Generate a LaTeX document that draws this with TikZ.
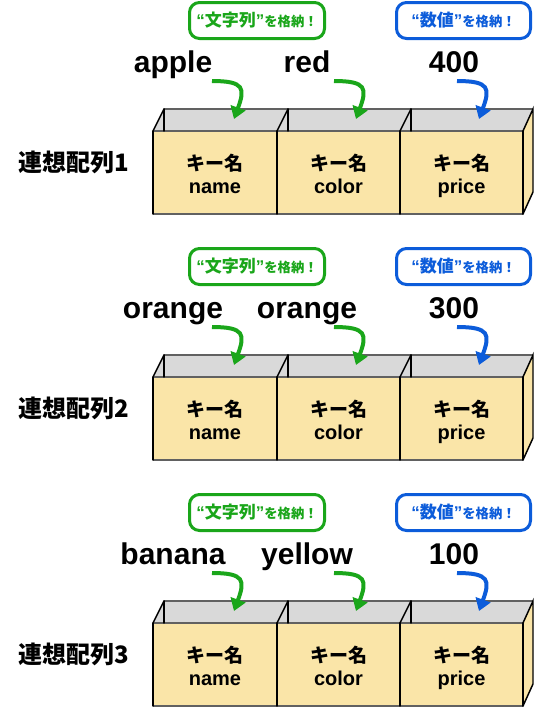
\documentclass[tikz,border=0pt]{standalone}
\usepackage{fontspec}
\setmainfont{Liberation Sans}
\newfontfamily\cjk{Noto Sans CJK JP}
\newcommand\jpfont{\cjk\bfseries}
\usetikzlibrary{arrows.meta}
\definecolor{ggreen}{RGB}{26,166,26}
\definecolor{bblue}{RGB}{12,92,218}
\definecolor{wheatfill}{RGB}{250,229,168}
\definecolor{topgray}{RGB}{217,217,217}
\begin{document}
\begin{tikzpicture}[x=0.75pt,y=-0.75pt,
  hline/.style={draw=black!62, line width=1.5pt},
  vline/.style={draw=black, line width=1.1pt, line cap=round},
  keytxt/.style={font=\jpfont\fontsize{14.25pt}{16pt}\selectfont, inner sep=0pt},
  keyname/.style={font=\bfseries\fontsize{15pt}{17pt}\selectfont, inner sep=0pt, anchor=base},
  valtxt/.style={font=\bfseries\fontsize{22.5pt}{26pt}\selectfont, inner sep=0pt, anchor=base},
  rowlbl/.style={font=\jpfont\fontsize{18pt}{20pt}\selectfont, inner sep=0pt},
  callout/.style={rounded corners=7.5pt, line width=2.25pt, minimum height=27pt, inner sep=0pt, fill=white},
  gcall/.style={callout, draw=ggreen, text=ggreen, minimum width=101.25pt},
  bcall/.style={callout, draw=bblue, text=bblue, minimum width=100.5pt},
  flow/.style={line width=3pt, -{Triangle[length=9pt,width=11.5pt]}, looseness=1.9},
]
\useasboundingbox (0,0) rectangle (534,708);
\foreach \n/\va/\vb/\vc in {1/apple/red/400,2/orange/orange/300,3/banana/yellow/100}{
\begin{scope}[yshift={-184.5pt*(\n-1)}]
  % box faces
  \fill[topgray] (153,131) -- (164,109) -- (533,109) -- (523,131) -- cycle;
  \fill[wheatfill] (523,131) -- (533,109) -- (533,192) -- (523,214) -- cycle;
  \fill[wheatfill] (153,131) rectangle (523,214);
  % horizontal edges
  \draw[hline] (164,109) -- (533,109);
  \draw[hline] (153,131) -- (523,131);
  \draw[hline] (153,214) -- (523,214);
  % back verticals and diagonals
  \foreach \fx/\bx in {153/164,277/288,400/411}{
    \draw[vline] (\bx,109) -- (\bx,131);
    \draw[vline] (\fx,131) -- (\bx,109);
  }
  \draw[vline] (523,131) -- (533,109) -- (533,192) -- (523,214);
  % front verticals
  \foreach \fx in {153,277,400,523}{
    \draw[vline] (\fx,131) -- (\fx,214);
  }
  % row label
  \node[rowlbl] (L\n) at (74,162) {連想配列\n};
  % key texts
  \node[keytxt] (ka\n) at (215,163) {キー名};
  \node[keyname] (na\n) at (215,193) {name};
  \node[keytxt] (kb\n) at (338.5,163) {キー名};
  \node[keyname] (nb\n) at (338.5,193) {color};
  \node[keytxt] (kc\n) at (461.5,163) {キー名};
  \node[keyname] (nc\n) at (461.5,193) {price};
  % values
  \node[valtxt] (va\n) at (173,72) {\va};
  \node[valtxt] (vb\n) at (307,72) {\vb};
  \node[valtxt] (vc\n) at (454,72) {\vc};
  % callouts
  \node[gcall] (cg\n) at (257,20.5) {{\bfseries\fontsize{12.75pt}{14pt}\selectfont “{\jpfont 文字列}”}{\jpfont\fontsize{10pt}{12pt}\selectfont を格納！}};
  \node[bcall] (cb\n) at (463.5,20.5) {{\bfseries\fontsize{12.75pt}{14pt}\selectfont “{\jpfont 数値}”}{\jpfont\fontsize{10pt}{12pt}\selectfont を格納！}};
  % arrows
  \coordinate (sa\n) at (212,81);
  \coordinate (ea\n) at (234,119);
  \coordinate (sb\n) at (334,81);
  \coordinate (eb\n) at (356,119);
  \coordinate (sc\n) at (457,81);
  \coordinate (ec\n) at (479,119);
  \draw[flow, ggreen] (sa\n) to[out=0, in=70] (ea\n);
  \draw[flow, ggreen] (sb\n) to[out=0, in=70] (eb\n);
  \draw[flow, bblue] (sc\n) to[out=0, in=70] (ec\n);
\end{scope}
}
\end{tikzpicture}
\end{document}
